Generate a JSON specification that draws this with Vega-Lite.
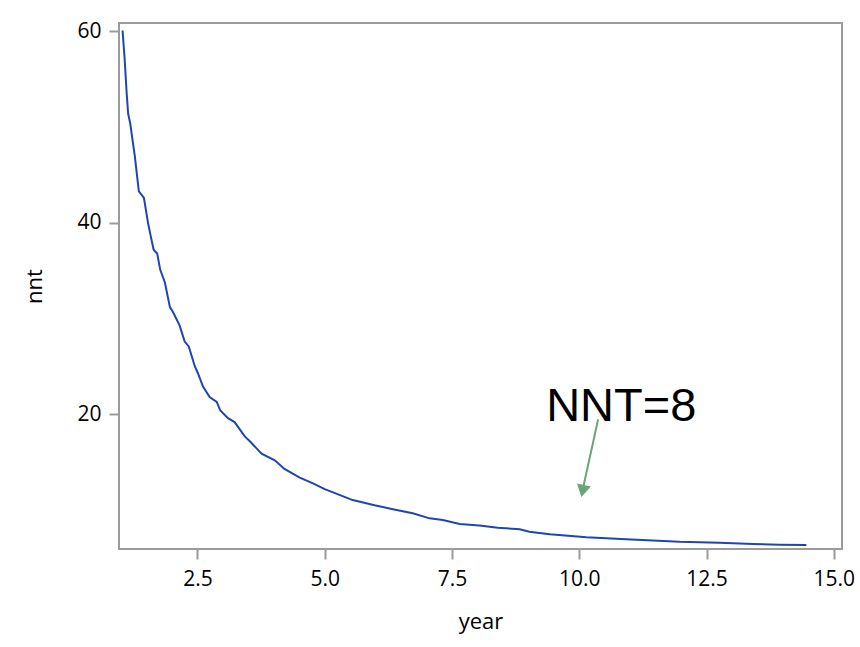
{
  "$schema": "https://vega.github.io/schema/vega-lite/v6.json",
  "autosize": "none",
  "width": 723,
  "height": 526,
  "padding": {"left": 119, "top": 23, "right": 18, "bottom": 98},
  "background": "white",
  "config": {
    "view": {"stroke": "#9b9b9b", "strokeWidth": 2},
    "axis": {
      "grid": false,
      "domain": false,
      "tickColor": "#9b9b9b",
      "tickWidth": 2,
      "tickSize": 10,
      "labelFont": "Open Sans",
      "labelFontSize": 21,
      "labelColor": "#000000",
      "titleFont": "Open Sans",
      "titleFontSize": 22,
      "titleFontWeight": "normal",
      "titleColor": "#000000"
    }
  },
  "datasets": {
    "curve": [
      {"year": 1.03, "nnt": 60.1},
      {"year": 1.07, "nnt": 57.2},
      {"year": 1.11, "nnt": 53.6},
      {"year": 1.14, "nnt": 51.4},
      {"year": 1.18, "nnt": 50.4},
      {"year": 1.27, "nnt": 47.0},
      {"year": 1.35, "nnt": 43.3},
      {"year": 1.45, "nnt": 42.6},
      {"year": 1.53, "nnt": 40.0},
      {"year": 1.58, "nnt": 38.7},
      {"year": 1.64, "nnt": 37.2},
      {"year": 1.71, "nnt": 36.8},
      {"year": 1.77, "nnt": 35.1},
      {"year": 1.86, "nnt": 33.8},
      {"year": 1.96, "nnt": 31.2},
      {"year": 2.02, "nnt": 30.7},
      {"year": 2.15, "nnt": 29.3},
      {"year": 2.25, "nnt": 27.6},
      {"year": 2.33, "nnt": 27.1},
      {"year": 2.45, "nnt": 25.0},
      {"year": 2.51, "nnt": 24.3},
      {"year": 2.61, "nnt": 22.9},
      {"year": 2.74, "nnt": 21.8},
      {"year": 2.88, "nnt": 21.3},
      {"year": 2.95, "nnt": 20.4},
      {"year": 3.1, "nnt": 19.6},
      {"year": 3.23, "nnt": 19.2},
      {"year": 3.43, "nnt": 17.7},
      {"year": 3.53, "nnt": 17.2},
      {"year": 3.69, "nnt": 16.3},
      {"year": 3.76, "nnt": 15.9},
      {"year": 4.02, "nnt": 15.2},
      {"year": 4.21, "nnt": 14.3},
      {"year": 4.51, "nnt": 13.4},
      {"year": 4.77, "nnt": 12.8},
      {"year": 5.0, "nnt": 12.2},
      {"year": 5.29, "nnt": 11.6},
      {"year": 5.55, "nnt": 11.05},
      {"year": 5.98, "nnt": 10.5},
      {"year": 6.34, "nnt": 10.1},
      {"year": 6.73, "nnt": 9.67},
      {"year": 7.06, "nnt": 9.14},
      {"year": 7.32, "nnt": 8.97},
      {"year": 7.65, "nnt": 8.55},
      {"year": 8.04, "nnt": 8.4},
      {"year": 8.4, "nnt": 8.16},
      {"year": 8.83, "nnt": 8.0},
      {"year": 9.02, "nnt": 7.75},
      {"year": 9.42, "nnt": 7.47},
      {"year": 10.14, "nnt": 7.16},
      {"year": 10.92, "nnt": 6.96},
      {"year": 11.97, "nnt": 6.7},
      {"year": 12.75, "nnt": 6.6},
      {"year": 13.41, "nnt": 6.46},
      {"year": 13.93, "nnt": 6.38},
      {"year": 14.46, "nnt": 6.36}
    ],
    "arrow": [
      {"year": 10.37, "nnt": 19.48, "year2": 10.07, "nnt2": 12.2}
    ],
    "head": [
      {"year": 10.067, "nnt": 12.0}
    ],
    "label": [
      {"year": 9.35, "nnt": 19.33, "text": "NNT=8"}
    ]
  },
  "layer": [
    {
      "data": {"name": "curve"},
      "mark": {"type": "line", "color": "#1f45b3", "strokeWidth": 2},
      "encoding": {
        "x": {
          "field": "year",
          "type": "quantitative",
          "title": "year",
          "scale": {"domain": [0.96, 15.16], "nice": false, "zero": false},
          "axis": {"values": [2.5, 5, 7.5, 10, 12.5, 15], "format": ".1f", "labelPadding": 9, "titlePadding": 22}
        },
        "y": {
          "field": "nnt",
          "type": "quantitative",
          "title": "nnt",
          "scale": {"domain": [5.94, 60.88], "nice": false, "zero": false},
          "axis": {"values": [20, 40, 60], "format": "d", "labelPadding": 8, "titlePadding": 30}
        }
      }
    },
    {
      "data": {"name": "arrow"},
      "mark": {"type": "rule", "color": "#6aa575", "strokeWidth": 2},
      "encoding": {
        "x": {"field": "year", "type": "quantitative"},
        "y": {"field": "nnt", "type": "quantitative"},
        "x2": {"field": "year2"},
        "y2": {"field": "nnt2"}
      }
    },
    {
      "data": {"name": "head"},
      "mark": {"type": "point", "shape": "triangle-down", "filled": true, "color": "#6aa575", "opacity": 1, "size": 200, "angle": 12},
      "encoding": {
        "x": {"field": "year", "type": "quantitative"},
        "y": {"field": "nnt", "type": "quantitative"}
      }
    },
    {
      "data": {"name": "label"},
      "mark": {"type": "text", "font": "Liberation Sans", "fontSize": 47, "color": "#000000", "align": "left", "baseline": "alphabetic"},
      "encoding": {
        "x": {"field": "year", "type": "quantitative"},
        "y": {"field": "nnt", "type": "quantitative"},
        "text": {"field": "text", "type": "nominal"}
      }
    }
  ]
}
